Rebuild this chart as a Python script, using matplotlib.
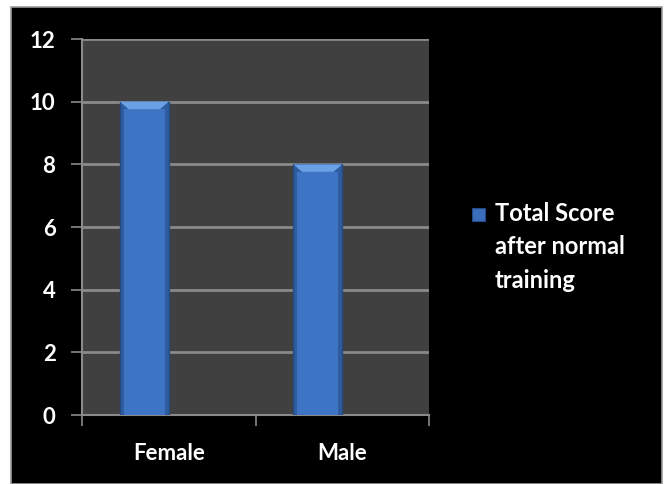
import matplotlib.pyplot as plt
from matplotlib.patches import Rectangle, Polygon
import numpy as np

plt.rcParams['font.family'] = ['Lato', 'DejaVu Sans']
plt.rcParams['font.weight'] = 'bold'

categories = ['Female', 'Male']
scores = [10, 8]
series_name = 'Total Score\nafter normal\ntraining'
y_ticks = [0, 2, 4, 6, 8, 10, 12]

fig = plt.figure(figsize=(6.69, 4.84), dpi=100, facecolor='white')
# black slide background with a thin grey outline
fig.patches.append(Rectangle((11 / 669, 0), 651 / 669, 477 / 484, transform=fig.transFigure,
                             facecolor='black', edgecolor='#9a9a9a', linewidth=1.2, zorder=-5))

ax = fig.add_axes([82 / 669, 1 - 415 / 484, 347 / 669, 376 / 484])
ax.set_zorder(2)
ax.set_facecolor('#404040')

x = np.arange(len(categories))
width = 0.282
offset = -width / 2
bar_color = '#3a6dbb'
bars = ax.bar(x + offset, scores, width=width, color='#2f5c9e', edgecolor='#234a82',
              linewidth=1.0, zorder=3)

# bevelled top cap and lighter face on each bar
cap = 0.24
for b in bars:
    x0, w, h = b.get_x(), b.get_width(), b.get_height()
    ax.add_patch(Rectangle((x0 + w * 0.08, 0), w * 0.84, h - cap, facecolor='#3d74c4',
                           edgecolor='none', zorder=3.5))
    ax.add_patch(Polygon([(x0, h), (x0 + w, h), (x0 + w * 0.82, h - cap), (x0 + w * 0.18, h - cap)],
                         closed=True, facecolor='#6aa0e6', edgecolor='none', zorder=4))

ax.set_xlim(-0.5, len(categories) - 0.5)
ax.set_ylim(0, 12)
ax.set_yticks(y_ticks)
ax.yaxis.grid(True, color='#8a8a8a', linewidth=2.0, zorder=1)
ax.set_axisbelow(True)

ax.set_xticks(np.arange(len(categories) + 1) - 0.5)
ax.set_xticklabels([])
ax.set_xticks(x, minor=True)
ax.set_xticklabels(categories, minor=True)
ax.tick_params(axis='x', which='major', length=8, width=1.2, color='#8a8a8a', direction='out')
ax.tick_params(axis='x', which='minor', length=0, pad=20, labelsize=16, labelcolor='white')
ax.tick_params(axis='y', length=8, width=1.2, color='#8a8a8a', pad=11, labelsize=16,
               labelcolor='white')

for s in ['top', 'right']:
    ax.spines[s].set_visible(False)
for s in ['left', 'bottom']:
    ax.spines[s].set_color('#8a8a8a')
    ax.spines[s].set_linewidth(1.5)

# legend: marker square beside the first line of the series name
fig.patches.append(Rectangle((472 / 669, 1 - 221 / 484), 13 / 669, 13 / 484,
                             transform=fig.transFigure, facecolor=bar_color,
                             edgecolor='#234a82', linewidth=0.8, zorder=3))
fig.text(495 / 669, 1 - 202 / 484, series_name, color='white', fontsize=17,
         va='top', ha='left', linespacing=1.55, zorder=3)

fig.savefig('out.png', dpi=100, facecolor='white')
